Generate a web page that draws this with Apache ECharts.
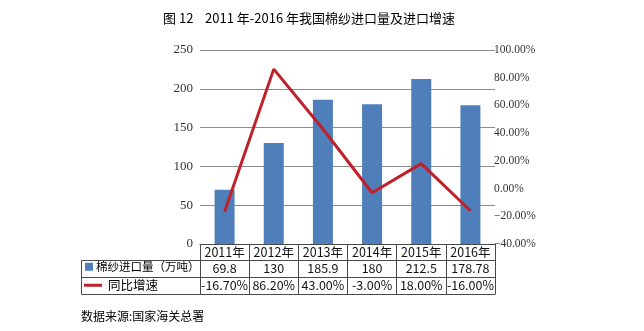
<!DOCTYPE html>
<html>
<head>
<meta charset="utf-8">
<script src="https://cdn.jsdelivr.net/npm/echarts@6/dist/echarts.min.js"></script>
<style>
  html, body { margin: 0; padding: 0; background: #fff; }
  #chart { width: 644px; height: 331px; }
</style>
</head>
<body>
<div id="chart"></div>
<script>
// Cotton yarn imports 2011-2016: volume (10k tonnes) and year-on-year growth (%)
const years = ['2011年', '2012年', '2013年', '2014年', '2015年', '2016年'];
const importVolume = [69.8, 130, 185.9, 180, 212.5, 178.78];
const growthRate = [-16.7, 86.2, 43.0, -3.0, 18.0, -16.0];
const volumeTicks = [0, 50, 100, 150, 200, 250];
const growthTicks = [-40, -20, 0, 20, 40, 60, 80, 100];

const volumeName = '棉纱进口量（万吨）';
const growthName = '同比增速';

const BAR_COLOR = '#4F7FBA';
const LINE_COLOR = '#C0202A';
const BORDER = '#4a4a4a';
const CJK = '"Noto Sans CJK SC", "Noto Sans", sans-serif';
const SERIF = '"Liberation Serif", "DejaVu Serif", serif';

const fmtPct = v => (v < 0 ? '\u2212' : '') + Math.abs(v).toFixed(2) + '%';

const chart = echarts.init(document.getElementById('chart'), null, { renderer: 'canvas' });

const tableRow = (data, offset) => ({
  type: 'category',
  gridIndex: 0,
  position: 'bottom',
  offset: offset,
  data: data,
  boundaryGap: true,
  axisLine: { show: false },
  axisTick: { show: false },
  splitLine: { show: false },
  axisLabel: {
    interval: 0, margin: 8, verticalAlign: 'middle',
    color: '#111', fontFamily: CJK, fontSize: 12.5
  }
});

const option = {
  backgroundColor: '#fff',
  animation: false,
  title: [
    {
      text: '图 12    2011 年-2016 年我国棉纱进口量及进口增速',
      left: 163, top: 12, padding: 0,
      textStyle: { fontFamily: CJK, fontSize: 13, fontWeight: 'normal', color: '#000' }
    },
    {
      text: '数据来源:国家海关总署',
      left: 81, top: 310, padding: 0,
      textStyle: { fontFamily: CJK, fontSize: 12, fontWeight: 'normal', color: '#000' }
    }
  ],
  legend: [
    {
      data: [{ name: volumeName, icon: 'rect' }],
      left: 85, top: 261, padding: 0,
      itemWidth: 8, itemHeight: 8,
      textStyle: { fontFamily: CJK, fontSize: 11.5, color: '#000', padding: [0, 0, 0, -2] },
      selectedMode: false
    },
    {
      data: [{ name: growthName, icon: 'rect' }],
      left: 84, top: 279, padding: 0,
      itemWidth: 18, itemHeight: 3,
      textStyle: { fontFamily: CJK, fontSize: 12.5, color: '#000', padding: [0, 0, 0, 1] },
      selectedMode: false
    }
  ],
  grid: { left: 200, right: 149, top: 50, bottom: 87, containLabel: false },
  xAxis: [
    {
      type: 'category',
      position: 'bottom',
      data: years,
      boundaryGap: true,
      axisLine: { show: true, lineStyle: { color: BORDER, width: 1 } },
      axisTick: { show: true, alignWithLabel: false, inside: false, length: 50, lineStyle: { color: BORDER, width: 1 } },
      splitLine: { show: false },
      axisLabel: {
        interval: 0, margin: 8, verticalAlign: 'middle',
        color: '#111', fontFamily: CJK, fontSize: 12.5
      }
    },
    tableRow(importVolume.map(v => String(v)), 16),
    tableRow(growthRate.map(v => v.toFixed(2) + '%'), 33.5)
  ],
  yAxis: [
    {
      type: 'value',
      min: volumeTicks[0], max: volumeTicks[volumeTicks.length - 1], interval: 50,
      axisLine: { show: false },
      axisTick: { show: false },
      splitLine: { show: true, lineStyle: { color: '#8C8C8C', width: 1 } },
      axisLabel: { margin: 7, color: '#333', fontFamily: SERIF, fontSize: 13 }
    },
    {
      type: 'value',
      position: 'right',
      min: growthTicks[0], max: growthTicks[growthTicks.length - 1], interval: 20,
      axisLine: { show: false },
      axisTick: { show: false },
      splitLine: { show: false },
      axisLabel: { margin: -1, color: '#333', fontFamily: SERIF, fontSize: 11.5, formatter: fmtPct }
    }
  ],
  series: [
    {
      name: volumeName,
      type: 'bar',
      xAxisIndex: 0, yAxisIndex: 0,
      data: importVolume,
      barWidth: 20,
      itemStyle: { color: BAR_COLOR },
      emphasis: { disabled: true }
    },
    {
      name: growthName,
      type: 'line',
      xAxisIndex: 0, yAxisIndex: 1,
      data: growthRate,
      symbol: 'none',
      lineStyle: { color: LINE_COLOR, width: 3 },
      itemStyle: { color: LINE_COLOR },
      emphasis: { disabled: true }
    }
  ]
};

chart.setOption(option);

// Table borders: horizontal rules for the two data rows and the legend column edge
function drawTable() {
  const x0 = chart.convertToPixel({ xAxisIndex: 0 }, 0);
  const x1 = chart.convertToPixel({ xAxisIndex: 0 }, years.length - 1);
  const band = (x1 - x0) / (years.length - 1);
  const right = x1 + band / 2;
  const axisY = chart.convertToPixel({ yAxisIndex: 0 }, 0);
  const legendLeft = 81;
  const rows = [axisY + 15.5, axisY + 33, axisY + 50];
  const seg = (xa, ya, xb, yb) => ({
    type: 'line', silent: true,
    shape: { x1: Math.round(xa) + 0.5, y1: Math.round(ya) + 0.5, x2: Math.round(xb) + 0.5, y2: Math.round(yb) + 0.5 },
    style: { stroke: BORDER, lineWidth: 1 }
  });
  const elements = rows.map(y => seg(legendLeft, y, right, y));
  elements.push(seg(legendLeft, rows[0], legendLeft, rows[2]));
  chart.setOption({ graphic: elements });
}
drawTable();
</script>
</body>
</html>
